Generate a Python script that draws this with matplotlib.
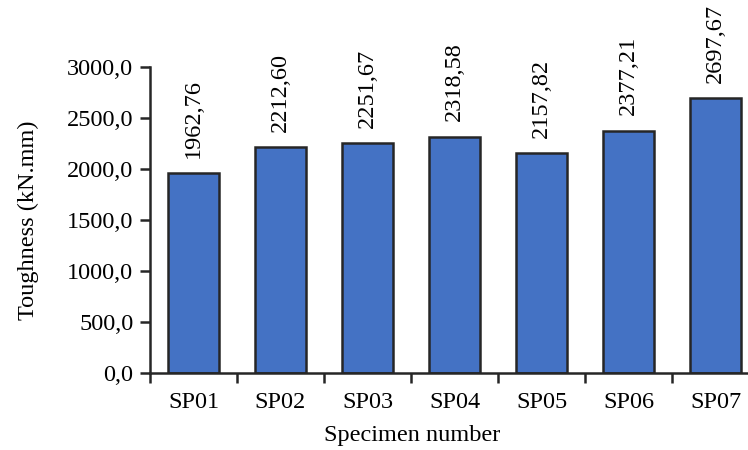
import matplotlib.pyplot as plt
import numpy as np
from matplotlib.ticker import FuncFormatter

specimens = ["SP01", "SP02", "SP03", "SP04", "SP05", "SP06", "SP07"]
toughness = [1962.76, 2212.60, 2251.67, 2318.58, 2157.82, 2377.21, 2697.67]

plt.rcParams["font.family"] = ["Liberation Serif", "DejaVu Serif"]
FS = 17.5

fig = plt.figure(figsize=(7.48, 4.5), dpi=100)
# axes run a little past the right edge of the figure
ax = fig.add_axes([150 / 748, 77 / 450, 609 / 748, 306 / 450])

x = np.arange(len(specimens))
ax.bar(x, toughness, width=0.575, color="#4472C4", edgecolor="#262626", linewidth=1.8, zorder=2)

for xi, v in zip(x, toughness):
    ax.annotate(f"{v:.2f}".replace(".", ","), (xi, v), xytext=(0, 11), textcoords="offset points",
                rotation=90, ha="center", va="bottom", fontsize=FS)

ax.set_xlim(-0.5, len(specimens) - 0.5)
ax.set_ylim(0, 3000)
ax.set_yticks(np.arange(0, 3001, 500))
ax.yaxis.set_major_formatter(FuncFormatter(lambda v, p: f"{v:.1f}".replace(".", ",")))

# category labels centred, ticks on the boundaries
ax.set_xticks(x)
ax.set_xticklabels(specimens)
ax.set_xticks(np.arange(-0.5, len(specimens)), minor=True)
ax.tick_params(axis="x", which="major", length=0, pad=14, labelsize=FS)
ax.tick_params(axis="x", which="minor", length=7, width=1.8, color="#262626", direction="out")
ax.tick_params(axis="y", length=7, width=1.8, color="#262626", direction="out", labelsize=FS, pad=5)

for s in ["top", "right"]:
    ax.spines[s].set_visible(False)
for s in ["left", "bottom"]:
    ax.spines[s].set_linewidth(1.8)
    ax.spines[s].set_color("#262626")

ax.set_ylabel("Toughness (kN.mm)", fontsize=FS)
ax.yaxis.set_label_coords(-0.182, 0.5)
ax.set_xlabel("Specimen number", fontsize=FS)
ax.xaxis.set_label_coords((412 - 150) / 609, -0.17)

fig.savefig("out.png", dpi=100)
